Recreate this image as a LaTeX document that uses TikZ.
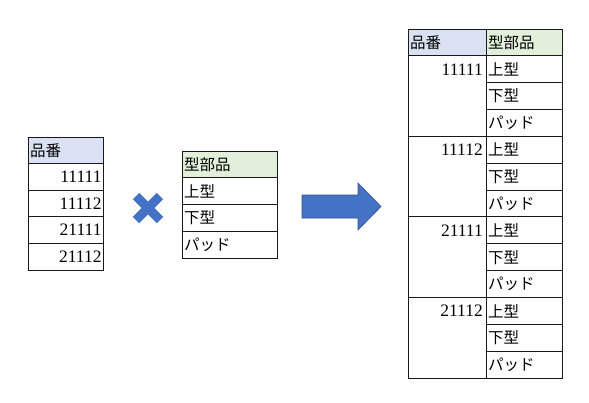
\documentclass[tikz,border=0pt]{standalone}
\usepackage{fontspec}
\newfontfamily\jpfont{Noto Sans CJK JP}
\newfontfamily\numfont{Liberation Serif}
\usetikzlibrary{positioning}

\definecolor{hdblue}{HTML}{D9E1F2}
\definecolor{hdgreen}{HTML}{E2EFDA}
\definecolor{markblue}{HTML}{4472C4}
\definecolor{markedge}{HTML}{2F528F}

\tikzset{
  cell/.style={draw=black!90, line width=1pt, outer sep=0pt, inner ysep=0pt, inner xsep=2pt, anchor=north west},
  jptext/.style={font=\jpfont\fontsize{15.5}{15.5}\selectfont, align=left},
  numtext/.style={font=\numfont\fontsize{17.5}{17}\selectfont, align=right},
}

\begin{document}
\begin{tikzpicture}[x=1pt,y=-1pt]
\useasboundingbox (0,0) rectangle (589,402);

% left table
\node[cell, jptext, fill=hdblue, text width=71pt, minimum height=26.6pt] (ban) at (28,137) {品番};
\foreach \n [count=\i] in {11111,11112,21111,21112}
  \node[cell, numtext, text width=72pt, inner xsep=1.5pt, minimum height=26.6pt] (ban\i) at (28,{137+26.6*\i}) {\n};

% cross
\draw[markblue, line width=9pt] (136,196) -- (160,220);
\draw[markblue, line width=9pt] (160,196) -- (136,220);

% middle table
\node[cell, jptext, fill=hdgreen, text width=91pt, minimum height=26.75pt] (kata) at (182,151) {型部品};
\foreach \p [count=\i] in {上型,下型,パッド}
  \node[cell, jptext, text width=91pt, minimum height=26.75pt] (kata\i) at (182,{151+26.75*\i}) {\p};

% arrow
\filldraw[fill=markblue, draw=markedge, line width=0.6pt]
  (302,195) -- (358,195) -- (358,183) -- (381,206.5) -- (358,230) -- (358,218) -- (302,218) -- cycle;

% result table
\node[cell, jptext, fill=hdblue, text width=74pt, minimum height=26.85pt] (rban) at (408,29) {品番};
\node[cell, jptext, fill=hdgreen, text width=72pt, minimum height=26.85pt] (rkata) at (486,29) {型部品};
\foreach \n [count=\i from 0] in {11111,11112,21111,21112} {
  \node[cell, minimum width=78pt, minimum height=80.55pt] (grp\i) at (408,{55.85+80.55*\i}) {};
  \node[numtext, inner xsep=3pt, inner ysep=0pt, text width=72pt, minimum height=26.85pt, anchor=north east] (num\i) at (grp\i.north east) {\n};
  \foreach \p [count=\j from 0] in {上型,下型,パッド}
    \node[cell, jptext, text width=72pt, minimum height=26.85pt] (part\i\j) at (486,{55.85+80.55*\i+26.85*\j}) {\p};
}
\end{tikzpicture}
\end{document}
